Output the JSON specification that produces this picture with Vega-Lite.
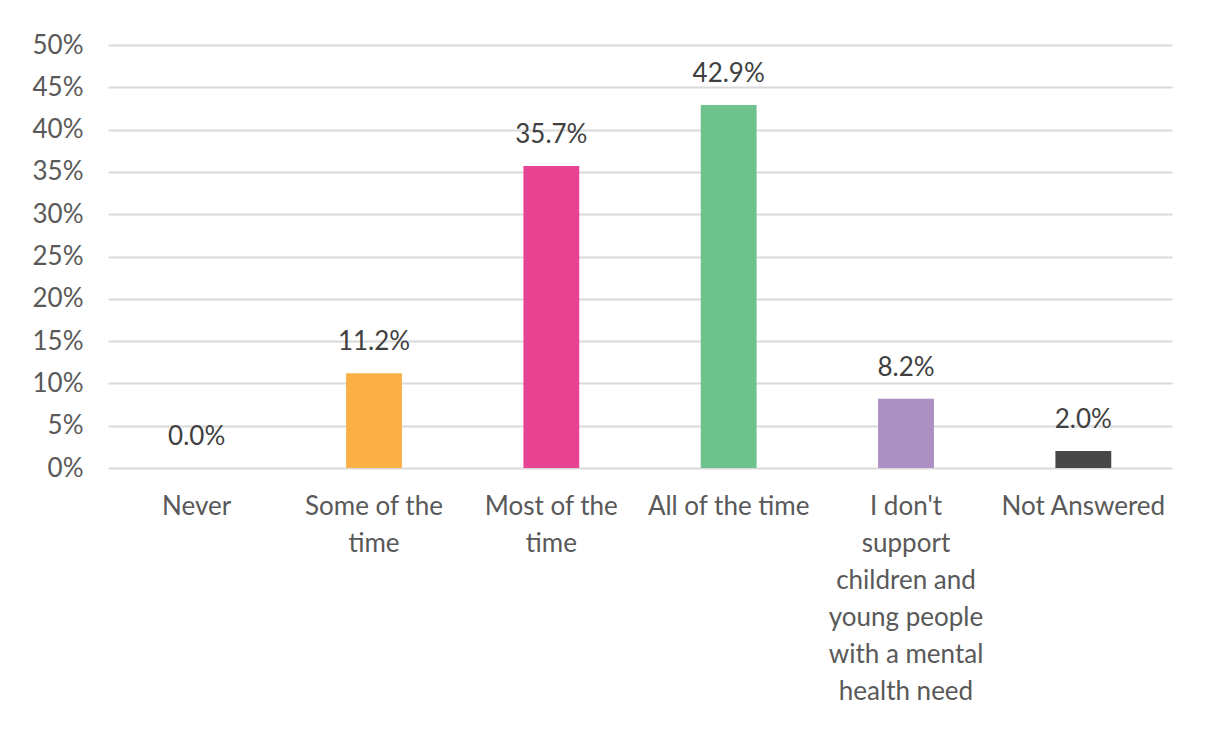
{
  "$schema": "https://vega.github.io/schema/vega-lite/v6.json",
  "width": 1064,
  "height": 423,
  "autosize": {"type": "none"},
  "padding": {"left": 108, "top": 45, "right": 37, "bottom": 261},
  "background": "white",
  "config": {
    "view": {"stroke": null},
    "font": "Lato",
    "axis": {"labelFont": "Lato", "labelColor": "#595959", "labelFontSize": 26}
  },
  "data": {
    "values": [
      {"category": "Never", "value": 0.0, "label": "0.0%"},
      {"category": "Some of the time", "value": 0.112, "label": "11.2%"},
      {"category": "Most of the time", "value": 0.357, "label": "35.7%"},
      {"category": "All of the time", "value": 0.429, "label": "42.9%"},
      {"category": "I don't support children and young people with a mental health need", "value": 0.082, "label": "8.2%"},
      {"category": "Not Answered", "value": 0.02, "label": "2.0%"}
    ]
  },
  "encoding": {
    "x": {
      "field": "category",
      "type": "nominal",
      "sort": null,
      "scale": {"paddingInner": 0.685, "paddingOuter": 0.3425},
      "axis": {
        "title": null,
        "labelAngle": 0,
        "labelAlign": "center",
        "labelBaseline": "top",
        "domain": false,
        "ticks": false,
        "labelPadding": 25,
        "labelLineHeight": 37,
        "labelLimit": 300,
        "labelExpr": "datum.value == 'Some of the time' ? ['Some of the', 'time'] : datum.value == 'Most of the time' ? ['Most of the', 'time'] : datum.value == 'Not Answered' ? 'Not Answered' : datum.value == 'Never' ? 'Never' : datum.value == 'All of the time' ? 'All of the time' : ['I don\\'t', 'support', 'children and', 'young people', 'with a mental', 'health need']"
      }
    },
    "y": {
      "field": "value",
      "type": "quantitative",
      "scale": {"domain": [0, 0.5]},
      "axis": {
        "title": null,
        "format": ".0%",
        "values": [0, 0.05, 0.1, 0.15, 0.2, 0.25, 0.3, 0.35, 0.4, 0.45, 0.5],
        "domain": false,
        "ticks": false,
        "labelPadding": 25,
        "gridColor": "#D9D9D9",
        "gridWidth": 2
      }
    }
  },
  "layer": [
    {
      "mark": {"type": "bar"},
      "encoding": {
        "color": {
          "field": "category",
          "type": "nominal",
          "legend": null,
          "scale": {
            "domain": ["Never", "Some of the time", "Most of the time", "All of the time", "I don't support children and young people with a mental health need", "Not Answered"],
            "range": ["#4472C4", "#FBB046", "#E84393", "#6DC38C", "#AC90C4", "#474747"]
          }
        }
      }
    },
    {
      "mark": {"type": "text", "baseline": "alphabetic", "dy": -23, "fontSize": 26, "color": "#404040", "font": "Lato"},
      "encoding": {"text": {"field": "label"}}
    }
  ]
}
